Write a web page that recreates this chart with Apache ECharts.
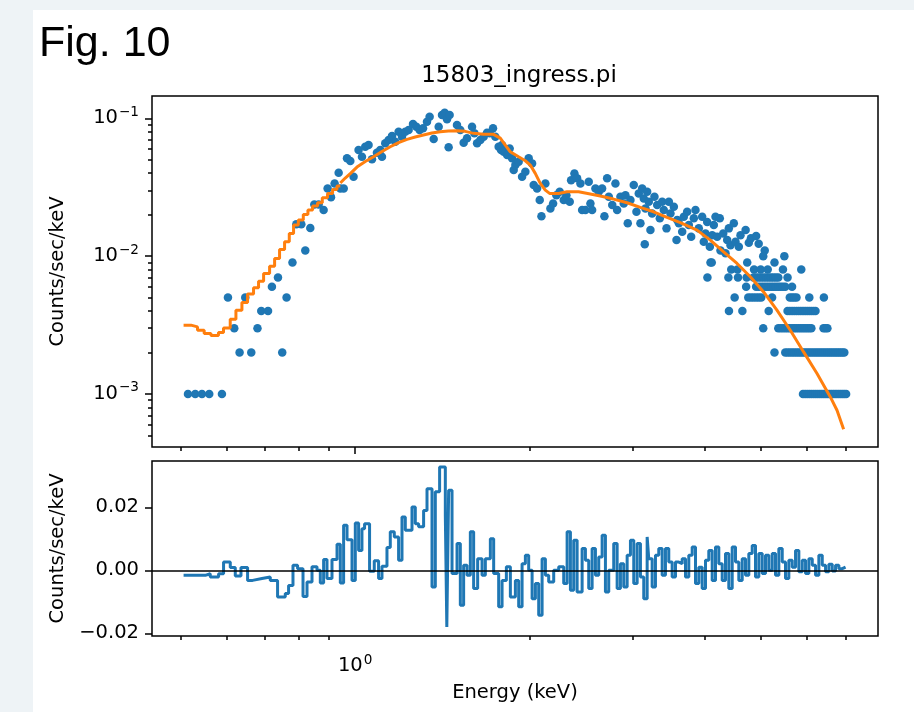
<!DOCTYPE html>
<html><head><meta charset="utf-8">
<script src="https://cdn.jsdelivr.net/npm/echarts@6/dist/echarts.min.js"></script>
<style>html,body{margin:0;padding:0;background:#eef3f6}#c{width:914px;height:712px}</style>
</head><body><div id="c"></div><script>
const figLabel = 'Fig. 10';
const titleText = '15803_ingress.pi';
const xName = 'Energy (keV)';
const yName = 'Counts/sec/keV';
const xRange = [0.447, 7.943];
const yRangeTop = [0.000412, 0.1452];
const yRangeBottom = [-0.02086, 0.0347];
const xMajorTicks = [1];
const xMinorTicks = [0.5, 0.6, 0.7, 0.8, 0.9, 2, 3, 4, 5, 6, 7];
const yMajorTicks = [0.001, 0.01, 0.1];
const yMinorTicks = [0.0005,0.0006,0.0007,0.0008,0.0009,0.002,0.003,0.004,0.005,0.006,0.007,0.008,0.009,0.02,0.03,0.04,0.05,0.06,0.07,0.08,0.09];
const residTicks = [-0.02, 0, 0.02];

// observed spectrum: [energy keV, counts/sec/keV]
const dataPts = [
[0.5155,0.001],[0.5306,0.001],[0.5449,0.001],[0.5609,0.001],[0.5898,0.001],
[0.604,0.005],[0.6193,0.003],[0.6325,0.002],[0.6469,0.005],[0.6625,0.002],
[0.679,0.003],[0.6893,0.004],[0.708,0.004],[0.719,0.006],[0.7365,0.007],
[0.749,0.002],[0.762,0.005],[0.78,0.009],[0.792,0.017],[0.8078,0.017],
[0.8207,0.011],[0.8371,0.016],[0.8505,0.0237],[0.8653,0.0237],[0.8826,0.0216],
[0.8966,0.031],[0.9087,0.0267],[0.9218,0.0337],[0.9367,0.0403],[0.9429,0.031],
[0.9556,0.031],[0.9683,0.0513],[0.981,0.049],[0.9937,0.0377],[1.0137,0.0589],
[1.0274,0.0526],[1.0409,0.0622],[1.0546,0.064],[1.069,0.0504],[1.0902,0.0562],
[1.1047,0.0589],[1.1122,0.0526],[1.1268,0.0658],[1.1419,0.0696],[1.1574,0.0744],
[1.1724,0.0676],[1.1881,0.0799],[1.2042,0.0735],[1.2199,0.0799],[1.2361,0.0822],
[1.2578,0.0909],[1.2743,0.0869],[1.2912,0.0822],[1.3088,0.0846],[1.3294,0.0945],
[1.3434,0.1027],[1.3651,0.0707],[1.3925,0.0869],[1.4109,0.1057],[1.4259,0.1098],
[1.4392,0.0983],[1.4484,0.0616],[1.4542,0.1057],[1.4972,0.0894],[1.5172,0.0822],
[1.5374,0.0665],[1.5579,0.0716],[1.5893,0.0869],[1.6041,0.0778],[1.6214,0.0658],
[1.6425,0.0696],[1.6644,0.0735],[1.6865,0.0786],[1.7043,0.0778],[1.7271,0.0846],
[1.7432,0.0735],[1.7661,0.0622],[1.783,0.0589],[1.79,0.064],[1.8016,0.0572],
[1.8137,0.0589],[1.8263,0.0541],[1.8448,0.0605],[1.8626,0.0513],[1.8746,0.0421],
[1.8871,0.0458],[1.912,0.0484],[1.9379,0.0377],[1.9634,0.0409],[1.9892,0.0513],
[2.0163,0.0471],[2.0292,0.0328],[2.0567,0.031],[2.0783,0.0255],[2.0925,0.0195],
[2.1255,0.0337],[2.1681,0.0222],[2.1915,0.0241],[2.2203,0.0277],[2.2496,0.0293],
[2.2858,0.0255],[2.3101,0.0277],[2.3405,0.0248],[2.3536,0.0356],[2.3846,0.0398],
[2.4102,0.0367],[2.442,0.0337],[2.4586,0.0216],[2.4909,0.0216],[2.5239,0.0346],
[2.5408,0.0241],[2.5581,0.0216],[2.5917,0.031],[2.626,0.0293],[2.6612,0.031],
[2.6857,0.0195],[2.715,0.0367],[2.7327,0.027],[2.7703,0.0235],[2.8056,0.0337],
[2.8246,0.0216],[2.8618,0.027],[2.8997,0.0241],[2.9191,0.0277],[2.9461,0.0173],
[2.9776,0.0255],[3.0171,0.0328],[3.0494,0.021],[3.0775,0.0285],[3.098,0.0173],
[3.1191,0.031],[3.1393,0.0262],[3.1513,0.0122],[3.1601,0.0222],[3.1815,0.0293],
[3.2021,0.0248],[3.2234,0.0155],[3.2448,0.0204],[3.2749,0.027],[3.3104,0.0235],
[3.3449,0.0188],[3.3768,0.0248],[3.3985,0.0216],[3.4354,0.0159],[3.4671,0.0248],
[3.4894,0.0204],[3.5362,0.0228],[3.5743,0.0131],[3.584,0.0183],[3.6076,0.0173],
[3.6553,0.015],[3.6786,0.0193],[3.7282,0.021],[3.7528,0.0168],[3.7879,0.0138],
[3.8281,0.0188],[3.8531,0.0216],[3.904,0.0159],[3.9569,0.0193],[3.982,0.0127],
[4.009,0.0146],[4.0363,0.0177],[4.0787,0.0117],[4.0893,0.009],[4.1173,0.0142],
[4.1438,0.0168],[4.1712,0.0193],[4.1996,0.0138],[4.2429,0.0188],[4.2547,0.011],
[4.3007,0.0146],[4.3399,0.0105],[4.3692,0.0131],[4.3979,0.0159],[4.4268,0.012],
[4.4854,0.0173],[4.5155,0.0127],[4.5751,0.0117],[4.6059,0.0142],[4.70,0.0155],
[4.76,0.0125],[4.80,0.0135],[4.90,0.014],[4.95,0.0123],[5.07,0.011],
[5.04,0.010],[5.48,0.010],[4.11,0.009],[4.73,0.009],[5.27,0.009],
[4.44,0.008],[4.55,0.008],[4.86,0.008],[4.99,0.008],[5.13,0.008],[5.45,0.008],[5.86,0.008],
[4.04,0.007],[4.39,0.007],[4.56,0.007],[4.72,0.007],[4.85,0.007],[4.90,0.007],[4.95,0.007],[5.00,0.007],
[5.05,0.007],[5.10,0.007],[5.15,0.007],[5.20,0.007],[5.25,0.007],[5.30,0.007],[5.35,0.007],[5.55,0.007],
[4.71,0.006],[4.90,0.006],[4.95,0.006],[5.00,0.006],[5.05,0.006],[5.10,0.006],[5.15,0.006],[5.20,0.006],
[5.25,0.006],[5.30,0.006],[5.35,0.006],[5.40,0.006],[5.45,0.006],[5.50,0.006],[5.65,0.006],
[4.50,0.005],[4.75,0.005],[4.80,0.005],[4.85,0.005],[4.90,0.005],[4.95,0.005],[5.00,0.005],[5.22,0.005],
[5.60,0.005],[5.65,0.005],[5.70,0.005],[5.75,0.005],[6.05,0.005],[6.41,0.005],
[4.40,0.004],[4.64,0.004],[5.15,0.004],[5.55,0.004],[5.60,0.004],[5.65,0.004],[5.70,0.004],[5.75,0.004],
[5.80,0.004],[5.85,0.004],[5.90,0.004],[5.95,0.004],[6.00,0.004],[6.05,0.004],[6.10,0.004],[6.15,0.004],[6.20,0.004],
[5.04,0.003],[5.35,0.003],[5.40,0.003],[5.45,0.003],[5.50,0.003],[5.55,0.003],[5.60,0.003],[5.65,0.003],
[5.70,0.003],[5.75,0.003],[5.80,0.003],[5.85,0.003],[5.90,0.003],[5.95,0.003],[6.00,0.003],[6.05,0.003],
[6.10,0.003],[6.40,0.003],[6.45,0.003],[6.50,0.003],
[5.27,0.002],[5.50,0.002],[5.55,0.002],[5.60,0.002],[5.65,0.002],[5.70,0.002],[5.75,0.002],[5.80,0.002],
[5.85,0.002],[5.90,0.002],[5.95,0.002],[6.00,0.002],[6.05,0.002],[6.10,0.002],[6.15,0.002],[6.20,0.002],
[6.25,0.002],[6.30,0.002],[6.35,0.002],[6.40,0.002],[6.45,0.002],[6.50,0.002],[6.55,0.002],[6.60,0.002],
[6.65,0.002],[6.70,0.002],[6.75,0.002],[6.80,0.002],[6.85,0.002],[6.90,0.002],[6.95,0.002],
[5.90,0.001],[5.95,0.001],[6.00,0.001],[6.05,0.001],[6.10,0.001],[6.15,0.001],[6.20,0.001],[6.25,0.001],
[6.30,0.001],[6.35,0.001],[6.40,0.001],[6.45,0.001],[6.50,0.001],[6.55,0.001],[6.60,0.001],[6.65,0.001],
[6.70,0.001],[6.75,0.001],[6.80,0.001],[6.85,0.001],[6.90,0.001],[6.95,0.001],[7.00,0.001]
];

// model, low-energy channels (step)
const modelStep = [
[0.5066,0.003155],[0.5217,0.003066],[0.5354,0.0029],[0.5497,0.002746],[0.5647,0.002655],
[0.5817,0.00279],[0.5935,0.003015],[0.6095,0.003487],[0.6234,0.004053],[0.6384,0.004612],
[0.6528,0.0053],[0.6685,0.005886],[0.6819,0.006585],[0.6957,0.007487],[0.7124,0.00846],
[0.7267,0.009623],[0.7411,0.01118],[0.756,0.0127],[0.7702,0.01462],[0.7834,0.0168],
[0.7983,0.01826],[0.8142,0.02008],[0.8293,0.02158],[0.8448,0.02307],[0.8616,0.02438],
[0.8779,0.02651],[0.8964,0.02852],[0.9144,0.0305],[0.9304,0.03223],[0.9429,0.03223]
];
// model, higher energies (channels too narrow to show steps)
const modelCurve = [
[0.9429,0.0339],[0.9615,0.03685],[0.9808,0.03973],[1.0072,0.04429],[1.0409,0.04857],
[1.0757,0.05263],[1.1122,0.05741],[1.1493,0.06219],[1.1877,0.06671],[1.2281,0.07037],
[1.2689,0.07313],[1.3111,0.07562],[1.3555,0.07819],[1.401,0.07991],[1.4478,0.08086],
[1.4966,0.08128],[1.5468,0.08045],[1.599,0.0778],[1.6634,0.0765],[1.7307,0.0765],
[1.7775,0.0719],[1.8131,0.064],[1.8493,0.05721],[1.911,0.05263],[1.9627,0.04922],
[2.0019,0.04581],[2.0419,0.03987],[2.0829,0.03373],[2.1246,0.03015],[2.1611,0.02852],
[2.2395,0.02852],[2.3153,0.02931],[2.4243,0.02931],[2.5391,0.0282],[2.6418,0.02727],
[2.7848,0.02594],[2.9376,0.02438],[3.0966,0.02257],[3.2637,0.02098],[3.4414,0.0191],
[3.6283,0.01751],[3.8769,0.01545],[4.0866,0.01307],[4.3078,0.01074],[4.5428,0.00885],
[4.7885,0.00708],[5.0476,0.0055],[5.3213,0.004053],[5.6105,0.0029],[5.9142,0.002018],
[6.2373,0.001406],[6.5751,0.000951],[6.7516,0.000761],[6.931,0.000554]
];

// residuals: [energy keV, counts/sec/keV]
const resid = [
[0.5066,-0.0016],[0.5521,-0.0011],[0.5631,-0.0021],[0.582,-0.0011],[0.5936,0.0026],
[0.6096,0.0009],[0.6218,-0.0018],[0.636,0.0009],[0.6529,-0.0032],[0.666,-0.0026],
[0.6912,-0.0021],[0.7143,-0.0032],[0.7353,-0.0085],[0.7581,-0.0074],[0.7681,-0.0048],
[0.7816,0.0016],[0.796,0.0005],[0.8133,-0.0083],[0.8263,-0.0037],[0.8428,0.0011],
[0.8597,0.0],[0.871,-0.004],[0.8825,0.0034],[0.8944,-0.0026],[0.9123,0.0034],
[0.9307,0.0083],[0.9429,-0.004],[0.9553,0.0143],[0.9683,0.0097],[0.9876,-0.0032],
[1.0006,0.015],[1.0138,0.0063],[1.0273,0.0132],[1.038,0.0148],[1.0588,-0.0003],
[1.0787,0.003],[1.0973,-0.0026],[1.1122,0.0013],[1.1344,0.0072],[1.1494,0.0122],
[1.1678,0.0106],[1.1879,0.0032],[1.204,0.0169],[1.2199,0.0127],[1.2527,0.0201],
[1.2692,0.0148],[1.286,0.0138],[1.3117,0.019],[1.3295,0.0259],[1.3561,-0.0053],
[1.374,0.0249],[1.3976,0.0328],[1.4296,0.0175],[1.4381,-0.018],[1.4485,0.0254],
[1.4681,-0.001],[1.4975,0.0085],[1.5172,-0.0111],[1.5372,0.0016],[1.5581,-0.0016],
[1.5786,0.0122],[1.5994,-0.0058],[1.625,0.0037],[1.6536,-0.0016],[1.6754,0.0037],
[1.7089,0.01],[1.7315,-0.001],[1.7662,-0.0116],[1.7901,-0.0032],[1.8209,0.0011],
[1.85,-0.0085],[1.8871,-0.0032],[1.912,-0.0116],[1.9379,0.0021],[1.9634,0.0048],
[1.9893,0.0],[2.0164,-0.009],[2.0429,-0.0042],[2.0699,-0.0143],[2.0979,0.0037],
[2.1255,-0.0016],[2.1536,-0.0037],[2.1967,0.0],[2.2407,0.0011],[2.2856,-0.0042],
[2.3166,0.0122],[2.3471,-0.0063],[2.3781,0.0095],[2.4103,-0.0069],[2.4585,0.0069],
[2.4909,0.0032],[2.5238,-0.0058],[2.558,0.0069],[2.5917,-0.0016],[2.6259,0.0042],
[2.6615,0.0111],[2.6965,-0.0069],[2.7321,0.0],[2.7868,0.0085],[2.8246,-0.0058],
[2.8618,0.0021],[2.8996,-0.0053],[2.9389,0.0048],[2.9776,0.0095],[3.0169,-0.0042],
[3.0578,0.0085],[3.098,-0.0021],[3.1389,-0.009],[3.1815,0.0106],[3.2018,0.0037],
[3.2452,-0.0053],[3.2879,0.0048],[3.3313,0.0069],[3.3765,-0.0016],[3.4209,0.0069],
[3.4661,0.0026],[3.513,-0.0021],[3.5593,0.0026],[3.6063,0.0021],[3.6552,0.0037],
[3.7033,-0.0021],[3.7522,0.0048],[3.8031,0.0074],[3.8531,-0.0042],[3.904,0.001],
[3.9569,-0.0058],[4.009,0.0032],[4.0619,0.0063],[4.117,-0.0032],[4.1712,0.0074],
[4.2263,0.0021],[4.2835,-0.0032],[4.3399,0.0053],[4.3972,-0.0058],[4.4568,0.0074],
[4.5155,0.0026],[4.5751,-0.0032],[4.6371,0.0037],[4.6982,-0.0016],[4.7602,0.0053],
[4.8247,0.0079],[4.8882,-0.0021],[4.9527,0.0053],[5.0199,-0.001],[5.086,0.0048],
[5.1531,0.0],[5.2229,0.0053],[5.2917,-0.0016],[5.3615,0.0069],[5.4342,0.0026],
[5.5058,-0.0026],[5.5785,0.0032],[5.6541,0.001],[5.7285,0.0063],[5.8041,-0.0005],
[5.8828,0.0032],[5.9603,-0.001],[6.039,0.0037],[6.1208,0.0016],[6.2014,-0.0016],
[6.2833,0.0048],[6.3684,0.0016],[6.4523,-0.0005],[6.5375,0.0019],[6.626,-0.0002],
[6.7133,0.0016],[6.8019,0.0005],[6.8942,0.001],[6.9849,0.001]
];

const FONT = 'DejaVu Sans';
const FS = 19.5;
const supRich = {
  b: {fontSize: FS, fontFamily: FONT, color: '#000', lineHeight: 26},
  s: {fontSize: 13.6, fontFamily: FONT, color: '#000', verticalAlign: 'top', lineHeight: 26, padding: [0,0,0,1]}
};
function powLabel(v) {
  const e = Math.round(Math.log10(v));
  return '{b|10}{s|' + (e < 0 ? '\u2212' + (-e) : e) + '}';
}
const tickStyle = {color: '#000', width: 1.5};
const G0 = {left: 152, top: 96, width: 726, height: 351};
const G1 = {left: 152, top: 461, width: 726, height: 175};

function logX(grid, ticks, len, withLabel, extra) {
  return Object.assign({
    type: 'log', gridIndex: grid, min: xRange[0], max: xRange[1], position: 'bottom',
    axisLine: {show: false}, splitLine: {show: false},
    axisTick: {show: true, customValues: ticks, length: len, lineStyle: tickStyle},
    axisLabel: withLabel ? {show: true, customValues: ticks, margin: 17, formatter: powLabel, rich: supRich} : {show: false}
  }, extra || {});
}

const option = {
  backgroundColor: '#eef3f6',
  animation: false,
  graphic: [
    {type: 'rect', shape: {x: 33, y: 10, width: 881, height: 702}, style: {fill: '#ffffff'}, z: -10},
    {type: 'text', x: 39, y: 23, style: {text: figLabel, fontSize: 43, fontFamily: 'Liberation Sans', fill: '#000'}}
  ],
  title: {
    text: titleText, left: 514, top: 60, textAlign: 'center',
    textStyle: {fontSize: 23, fontWeight: 'normal', fontFamily: FONT, color: '#000'}
  },
  grid: [
    Object.assign({show: true, borderColor: '#000', borderWidth: 1.5, backgroundColor: '#fff', containLabel: false}, G0),
    Object.assign({show: true, borderColor: '#000', borderWidth: 1.5, backgroundColor: '#fff', containLabel: false}, G1)
  ],
  xAxis: [
    logX(0, xMajorTicks, 7, false),
    logX(0, xMinorTicks, 4, false),
    logX(1, xMajorTicks, 7, true, {name: xName, nameLocation: 'middle', nameGap: 47,
      nameTextStyle: {fontSize: FS, fontFamily: FONT, color: '#000'}}),
    logX(1, xMinorTicks, 4, false)
  ],
  yAxis: [
    {type: 'log', gridIndex: 0, min: yRangeTop[0], max: yRangeTop[1], position: 'left',
     axisLine: {show: false}, splitLine: {show: false},
     axisTick: {show: true, customValues: yMajorTicks, length: 7, lineStyle: tickStyle},
     axisLabel: {show: true, customValues: yMajorTicks, margin: 13, formatter: powLabel, rich: supRich},
     name: yName, nameLocation: 'middle', nameGap: 84,
     nameTextStyle: {fontSize: FS, fontFamily: FONT, color: '#000'}},
    {type: 'log', gridIndex: 0, min: yRangeTop[0], max: yRangeTop[1], position: 'left',
     axisLine: {show: false}, splitLine: {show: false},
     axisTick: {show: true, customValues: yMinorTicks, length: 4, lineStyle: tickStyle},
     axisLabel: {show: false}},
    {type: 'value', gridIndex: 1, min: yRangeBottom[0], max: yRangeBottom[1], position: 'left',
     axisLine: {show: false}, splitLine: {show: false},
     axisTick: {show: true, customValues: residTicks, length: 7, lineStyle: tickStyle},
     axisLabel: {show: true, customValues: residTicks, margin: 13, fontSize: FS, fontFamily: FONT, color: '#000',
       formatter: v => (v < 0 ? '\u2212' : '') + Math.abs(v).toFixed(2)},
     name: yName, nameLocation: 'middle', nameGap: 84,
     nameTextStyle: {fontSize: FS, fontFamily: FONT, color: '#000'}}
  ],
  series: [
    {type: 'scatter', xAxisIndex: 0, yAxisIndex: 0, data: dataPts, symbol: 'circle', symbolSize: 8.5,
     itemStyle: {color: '#1f77b4', opacity: 1}, z: 2},
    {type: 'line', xAxisIndex: 0, yAxisIndex: 0, data: modelStep, step: 'end', showSymbol: false,
     lineStyle: {color: '#ff7f0e', width: 3}, itemStyle: {color: '#ff7f0e'}, z: 3},
    {type: 'line', xAxisIndex: 0, yAxisIndex: 0, data: modelCurve, showSymbol: false,
     lineStyle: {color: '#ff7f0e', width: 3}, itemStyle: {color: '#ff7f0e'}, z: 3},
    {type: 'line', xAxisIndex: 2, yAxisIndex: 2, data: resid, step: 'end', showSymbol: false,
     lineStyle: {color: '#1f77b4', width: 3}, itemStyle: {color: '#1f77b4'}, z: 2},
    {type: 'line', xAxisIndex: 2, yAxisIndex: 2, data: [], z: 4,
     markLine: {silent: true, symbol: 'none', label: {show: false},
       lineStyle: {color: '#000', width: 1.6, type: 'solid'}, data: [{yAxis: 0}]}}
  ]
};
const chart = echarts.init(document.getElementById('c'), null, {renderer: 'canvas'});
chart.setOption(option);
</script></body></html>
